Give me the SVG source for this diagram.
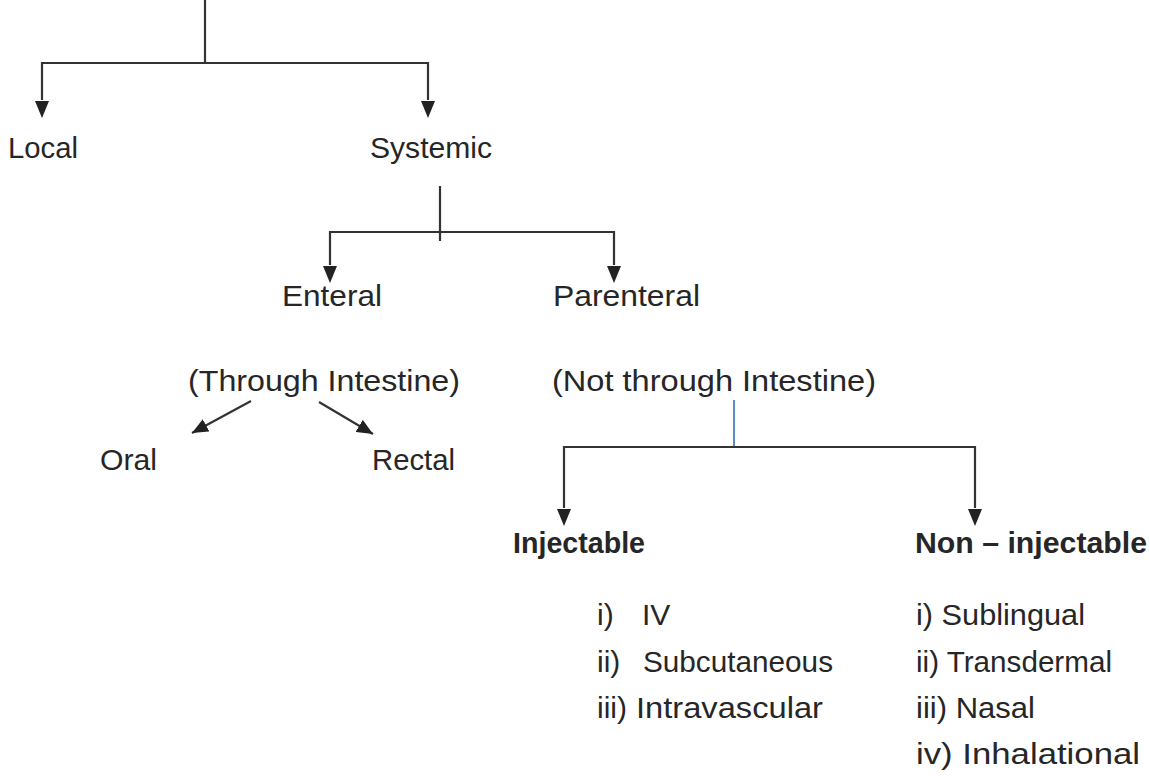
<svg xmlns="http://www.w3.org/2000/svg" width="1150" height="776" viewBox="0 0 1150 776">
<style>
text{font-family:"Liberation Sans","Open Sans",sans-serif;font-size:30px;fill:#262626;}
.b{font-weight:bold;}
.ln{stroke:#333;stroke-width:2.2;fill:none;}
.arr{marker-end:url(#ah);}
.blue{stroke:#5b8ec4;stroke-width:2;fill:none;}
</style>
<defs>
<marker id="ah" viewBox="0 0 14 16" refX="7" refY="16" markerWidth="14" markerHeight="16" markerUnits="userSpaceOnUse" orient="auto-start-reverse">
<path d="M0,0 L14,0 L7,16 Z" fill="#222" transform="rotate(0)"/>
</marker>
<marker id="ad" viewBox="0 0 16 14" refX="16" refY="7" markerWidth="16" markerHeight="14" markerUnits="userSpaceOnUse" orient="auto">
<path d="M0,0 L16,7 L0,14 Z" fill="#222"/>
</marker>
</defs>
<rect width="1150" height="776" fill="#fff"/>
<g id="connectors">
<line class="ln" x1="205" y1="0" x2="205" y2="63"/>
<polyline class="ln" points="42,100 42,63 428,63 428,100"/>
<path d="M35,101 L49,101 L42,118 Z" fill="#222"/>
<path d="M421,101 L435,101 L428,118 Z" fill="#222"/>
<line class="ln" x1="440" y1="186" x2="440" y2="241"/>
<polyline class="ln" points="330,265 330,232 614,232 614,265"/>
<path d="M323,266 L337,266 L330,283 Z" fill="#222"/>
<path d="M607,266 L621,266 L614,283 Z" fill="#222"/>
<line class="ln" x1="251" y1="401" x2="192" y2="433" marker-end="url(#ad)"/>
<line class="ln" x1="319" y1="402" x2="373" y2="434" marker-end="url(#ad)"/>
<line class="blue" x1="734" y1="400" x2="734" y2="447"/>
<polyline class="ln" points="564,508 564,447 975,447 975,508"/>
<path d="M557,509 L571,509 L564,526 Z" fill="#222"/>
<path d="M968,509 L982,509 L975,526 Z" fill="#222"/>
</g>
<g id="node-local"><text x="8" y="158" textLength="70" lengthAdjust="spacingAndGlyphs">Local</text></g>
<g id="node-systemic"><text x="370" y="158" textLength="122" lengthAdjust="spacingAndGlyphs">Systemic</text></g>
<g id="node-enteral"><text x="282" y="306" textLength="100" lengthAdjust="spacingAndGlyphs">Enteral</text></g>
<g id="node-parenteral"><text x="553" y="306" textLength="147" lengthAdjust="spacingAndGlyphs">Parenteral</text></g>
<g id="node-through"><text x="188" y="391" textLength="272" lengthAdjust="spacingAndGlyphs">(Through Intestine)</text></g>
<g id="node-notthrough"><text x="552" y="391" textLength="324" lengthAdjust="spacingAndGlyphs">(Not through Intestine)</text></g>
<g id="node-oral"><text x="100" y="470" textLength="57" lengthAdjust="spacingAndGlyphs">Oral</text></g>
<g id="node-rectal"><text x="372" y="470" textLength="83" lengthAdjust="spacingAndGlyphs">Rectal</text></g>
<g id="node-injectable"><text class="b" x="513" y="553" textLength="132" lengthAdjust="spacingAndGlyphs">Injectable</text></g>
<g id="node-noninjectable"><text class="b" x="915" y="553" textLength="232" lengthAdjust="spacingAndGlyphs">Non – injectable</text></g>
<g id="list-injectable">
<text y="625"><tspan x="597">i)</tspan><tspan x="642">IV</tspan></text>
<text y="672"><tspan x="597">ii)</tspan><tspan x="643" textLength="190" lengthAdjust="spacingAndGlyphs">Subcutaneous</tspan></text>
<text y="718"><tspan x="597">iii)</tspan><tspan x="636" textLength="187" lengthAdjust="spacingAndGlyphs">Intravascular</tspan></text>
</g>
<g id="list-noninjectable">
<text x="916" y="625" textLength="169" lengthAdjust="spacingAndGlyphs">i) Sublingual</text>
<text x="916" y="672" textLength="196" lengthAdjust="spacingAndGlyphs">ii) Transdermal</text>
<text x="916" y="718" textLength="119" lengthAdjust="spacingAndGlyphs">iii) Nasal</text>
<text x="916" y="764" textLength="224" lengthAdjust="spacingAndGlyphs">iv) Inhalational</text>
</g>
</svg>
